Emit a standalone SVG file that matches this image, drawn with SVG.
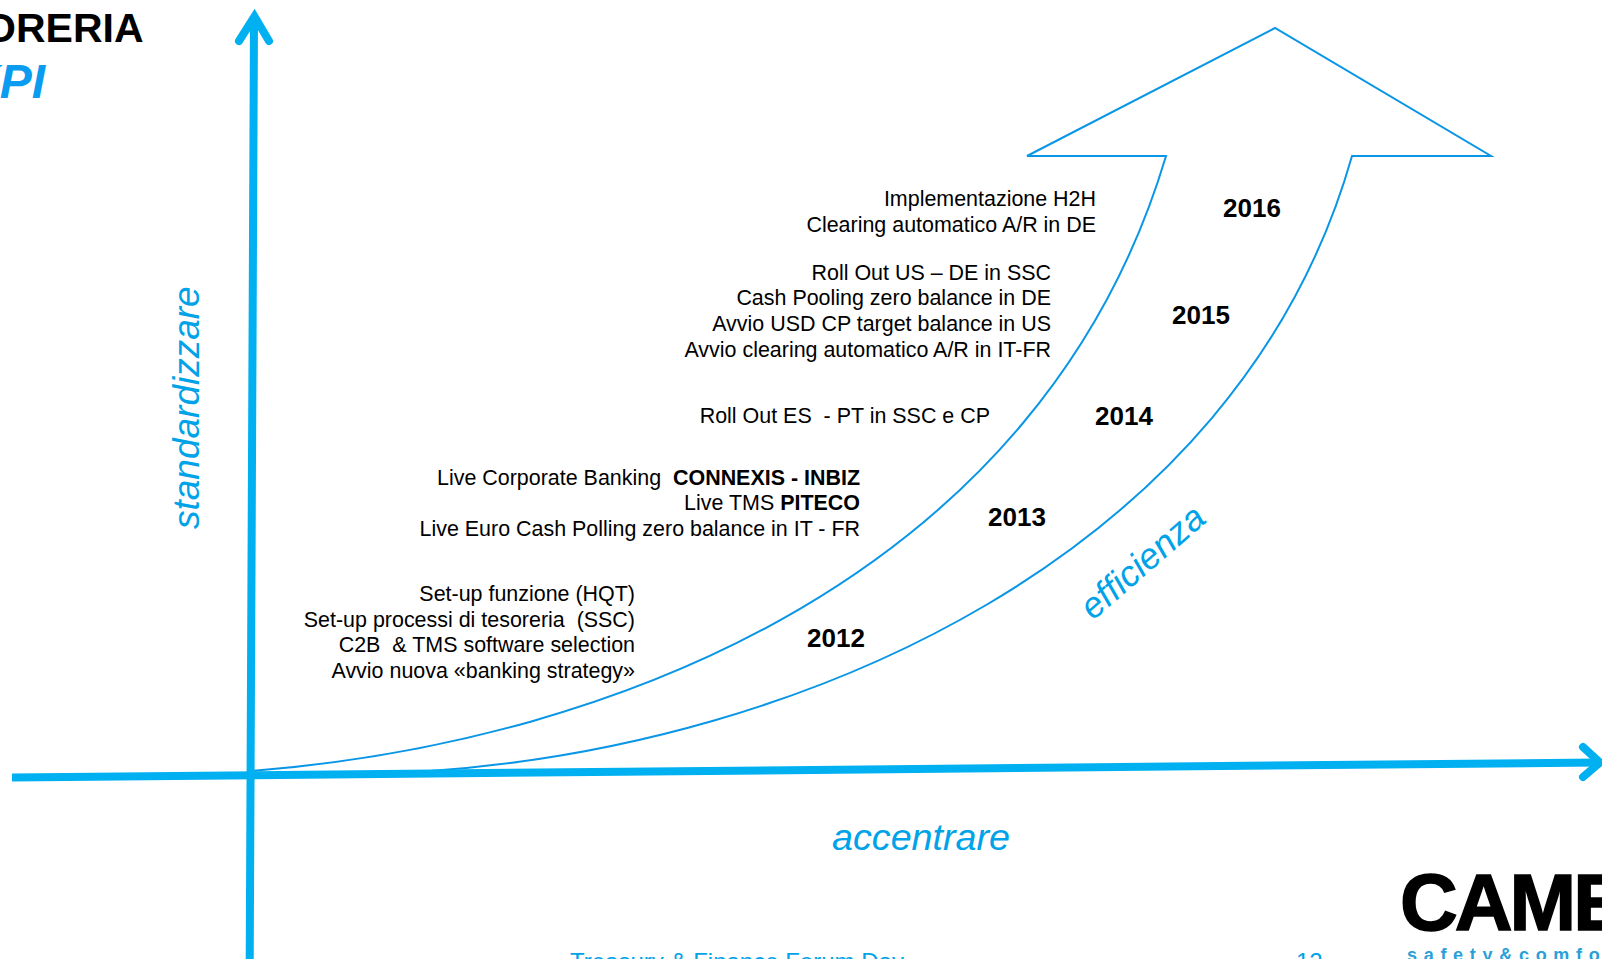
<svg xmlns="http://www.w3.org/2000/svg" width="1602" height="959" viewBox="0 0 1602 959">
<style>
text{font-family:"Liberation Sans",Arial,sans-serif;white-space:pre}
.b{font-size:21.45px;fill:#000;text-anchor:end}
.y{font-size:26px;font-weight:bold;fill:#000}
.i{font-style:italic;fill:#00a2e8}
.ax{fill:none;stroke:#00b0f0;stroke-width:8;stroke-linecap:round;stroke-linejoin:miter}
</style>
<rect width="1602" height="959" fill="#fff"/>
<g id="title">
<text x="143.500" y="42" text-anchor="end" font-size="41" font-weight="bold" fill="#000">ORERIA</text>
<text x="45" y="98" text-anchor="end" font-size="48" font-weight="bold" font-style="italic" fill="#0a9cf0">KPI</text>
</g>
<g id="connectors">
<path id="arrow-efficienza" d="M251 771C620 742 1042 572 1166 156H1027L1275 28L1491 156H1352C1238 558 800 745 430 771" fill="#fff" stroke="#0a96e6" stroke-width="2" stroke-linejoin="miter"/>
<path id="axis-y" class="ax" d="M249.700 964L254 18M239 41L254.500 16.500L269 41"/>
<path id="axis-x" class="ax" style="stroke-linecap:butt" d="M12 777.500L1598 762.500"/>
<path id="axis-x-head" class="ax" d="M1583 747L1600 762.500L1583 777"/>
</g>
<g id="labels">
<text class="i" font-size="37" transform="translate(199 529) rotate(-90)">standardizzare</text>
<text class="i" x="832" y="850" font-size="37.700">accentrare</text>
<text class="i" font-size="36" transform="translate(1093 621) rotate(-41)">efficienza</text>
</g>
<g id="y2016">
<text class="y" x="1223" y="217">2016</text>
<text class="b" x="1096" y="206">Implementazione H2H</text>
<text class="b" x="1096" y="232">Clearing automatico A/R in DE</text>
</g>
<g id="y2015">
<text class="y" x="1172" y="324">2015</text>
<text class="b" x="1051" y="280">Roll Out US – DE in SSC</text>
<text class="b" x="1051" y="305">Cash Pooling zero balance in DE</text>
<text class="b" x="1051" y="331">Avvio USD CP target balance in US</text>
<text class="b" x="1051" y="357">Avvio clearing automatico A/R in IT-FR</text>
</g>
<g id="y2014">
<text class="y" x="1095" y="425">2014</text>
<text class="b" x="990" y="423">Roll Out ES  - PT in SSC e CP</text>
</g>
<g id="y2013">
<text class="y" x="988" y="526">2013</text>
<text class="b" x="860" y="485">Live Corporate Banking  <tspan font-weight="bold">CONNEXIS - INBIZ</tspan></text>
<text class="b" x="860" y="510">Live TMS <tspan font-weight="bold">PITECO</tspan></text>
<text class="b" x="860" y="536">Live Euro Cash Polling zero balance in IT - FR</text>
</g>
<g id="y2012">
<text class="y" x="807" y="647">2012</text>
<text class="b" x="635" y="601">Set-up funzione (HQT)</text>
<text class="b" x="635" y="627">Set-up processi di tesoreria  (SSC)</text>
<text class="b" x="635" y="652">C2B  &amp; TMS software selection</text>
<text class="b" x="635" y="678">Avvio nuova «banking strategy»</text>
</g>
<g id="footer">
<text x="570" y="970" font-size="24" fill="#00a2e8">Treasury &amp; Finance Forum Day</text>
<text x="1296" y="970" font-size="24" fill="#00a2e8">12</text>
</g>
<g id="logo">
<text x="1400" y="929.500" font-size="80" font-weight="bold" letter-spacing="-3" fill="#000" stroke="#000" stroke-width="1.500">CAME</text>
<text x="1407" y="961" font-size="18" font-weight="bold" letter-spacing="6.700" fill="#2a9fd8">safety&amp;comfort</text>
</g>
</svg>
